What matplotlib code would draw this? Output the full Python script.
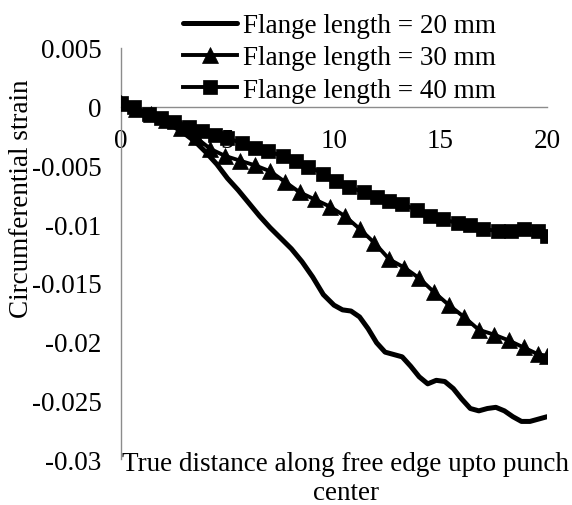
import matplotlib
matplotlib.use("Agg")
import matplotlib.pyplot as plt

plt.rcParams['font.family'] = ['Liberation Serif', 'DejaVu Serif']

# flange length = 20 mm (plain smoothed line)
x20 = [0, 1, 2, 2.5, 3, 3.5, 4, 4.5, 5, 5.5, 6, 6.5, 7, 7.5, 8, 8.5, 9, 9.5,
       10, 10.4, 10.8, 11.2, 11.6, 12, 12.4, 12.8, 13.2, 13.6, 14, 14.4,
       14.8, 15.2, 15.6, 16, 16.4, 16.8, 17.2, 17.6, 18, 18.4, 18.8, 19.2,
       19.6, 20]
y20 = [0.0003, -0.0004, -0.0012, -0.0017, -0.0023, -0.0030, -0.0039, -0.0049,
       -0.0061, -0.0071, -0.0082, -0.0093, -0.0103, -0.0112, -0.0121, -0.0132,
       -0.0145, -0.0160, -0.0169, -0.0173, -0.0174, -0.0179, -0.0189, -0.0201,
       -0.0209, -0.0211, -0.0213, -0.0221, -0.0230, -0.0236, -0.0233, -0.0234,
       -0.0240, -0.0249, -0.0257, -0.0259, -0.0257, -0.0256, -0.0259, -0.0264,
       -0.0268, -0.0268, -0.0266, -0.0264]

# flange length = 30 mm (triangles)
x30 = [0, 0.7, 1.4, 2.1, 2.8, 3.5, 4.2, 4.9, 5.6, 6.3, 7.0, 7.7, 8.4, 9.1,
       9.8, 10.5, 11.2, 11.9, 12.6, 13.3, 14.0, 14.7, 15.4, 16.1, 16.8, 17.5,
       18.2, 18.9, 19.6, 20.0]
y30 = [0.0003, -0.0002, -0.0006, -0.0011, -0.0018, -0.0026, -0.0036, -0.0042,
       -0.0046, -0.0050, -0.0055, -0.0064, -0.0073, -0.0079, -0.0085, -0.0093,
       -0.0104, -0.0116, -0.0130, -0.0137, -0.0146, -0.0158, -0.0169, -0.0179,
       -0.0190, -0.0194, -0.0199, -0.0205, -0.0211, -0.0212]

# flange length = 40 mm (squares)
x40 = [0, 0.6, 1.3, 1.9, 2.5, 3.2, 3.8, 4.4, 5.0, 5.7, 6.3, 6.9, 7.6, 8.2,
       8.8, 9.5, 10.1, 10.7, 11.4, 12.0, 12.6, 13.2, 13.9, 14.5, 15.1, 15.8,
       16.4, 17.0, 17.7, 18.3, 18.9, 19.6, 20.0]
y40 = [0.0003, 0.0000, -0.0006, -0.0010, -0.0013, -0.0017, -0.0021, -0.0024,
       -0.0027, -0.0031, -0.0035, -0.0038, -0.0042, -0.0046, -0.0051, -0.0057,
       -0.0063, -0.0068, -0.0073, -0.0077, -0.0080, -0.0083, -0.0088, -0.0093,
       -0.0096, -0.0099, -0.0101, -0.0104, -0.0106, -0.0106, -0.0104, -0.0106,
       -0.0110]

labels = ['Flange length = 20 mm', 'Flange length = 30 mm', 'Flange length = 40 mm']
xticks = [0, 5, 10, 15, 20]
yticks = [0.005, 0, -0.005, -0.01, -0.015, -0.02, -0.025, -0.03]
ytick_labels = ['0.005', '0', '-0.005', '-0.01', '-0.015', '-0.02', '-0.025', '-0.03']

fs = 19.5
axis_grey = '#8c8c8c'

fig = plt.figure(figsize=(5.72, 5.06), dpi=100)
ax = fig.add_axes([0.2115, 0.0909, 0.7448, 0.8123])

l1, = ax.plot(x20, y20, color='black', lw=3.6, zorder=3,
              solid_capstyle='round', solid_joinstyle='round')
l2, = ax.plot(x30, y30, color='black', lw=2.8, marker='^', ms=11.5, mew=0.5,
              zorder=3, solid_joinstyle='round')
l3, = ax.plot(x40, y40, color='black', lw=2.8, marker='s', ms=10, mew=0.5,
              zorder=3, solid_joinstyle='round')

ax.set_xlim(0, 20)
ax.set_ylim(-0.03, 0.005)
ax.set_xticks(xticks)
ax.set_xticklabels([str(t) for t in xticks])
ax.set_yticks(yticks)
ax.set_yticklabels(ytick_labels)

ax.spines['top'].set_visible(False)
ax.spines['right'].set_visible(False)
ax.spines['bottom'].set_position(('data', 0))
for s in ('left', 'bottom'):
    ax.spines[s].set_color(axis_grey)
    ax.spines[s].set_linewidth(1.0)

ax.tick_params(axis='both', length=0, labelsize=fs)
ax.tick_params(axis='x', pad=15)
ax.tick_params(axis='y', pad=14)

fig.text(22 / 572, 1 - 199 / 506, 'Circumferential strain', rotation=90,
         ha='center', va='center', fontsize=fs)
fig.text(346 / 572, 1 - 479 / 506, 'True distance along free edge upto punch\ncenter',
         ha='center', va='center', fontsize=fs, linespacing=1.25)

fig.legend([l1, l2, l3], labels, loc='upper left', bbox_to_anchor=(183 / 572, 1 - 14 / 506),
           frameon=False, fontsize=fs, borderpad=0, borderaxespad=0,
           handlelength=2.0, handletextpad=0.2, labelspacing=0.27)

fig.savefig('out.png', dpi=100)
